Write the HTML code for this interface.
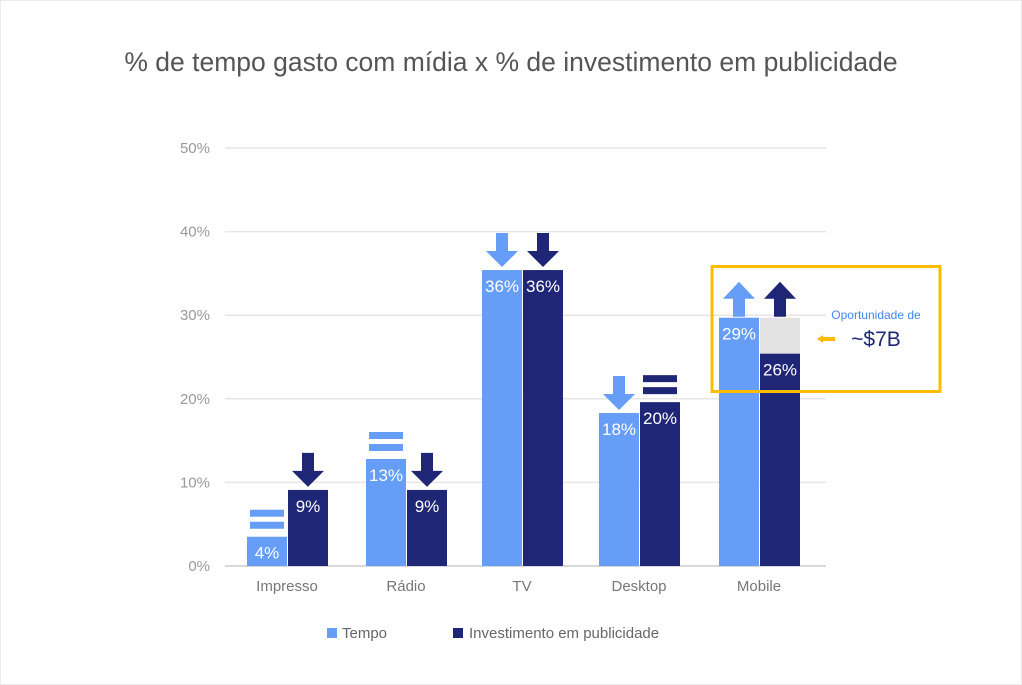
<!DOCTYPE html>
<html><head><meta charset="utf-8"><style>
html,body{margin:0;padding:0;background:#fff;}
body{width:1022px;height:685px;overflow:hidden;font-family:"Liberation Sans",sans-serif;}
</style></head><body>
<svg id="c" width="1022" height="685" xmlns="http://www.w3.org/2000/svg" style="display:block">
<rect x="0.5" y="0.5" width="1021" height="684" fill="#fff" stroke="#ececec"/>
<text x="511" y="71" text-anchor="middle" font-size="26.5" fill="#555">% de tempo gasto com mídia x % de investimento em publicidade</text>
<g id="grid"></g><g id="bars"></g><g id="icons"></g>
</svg>
<script>
const categories=["Impresso","Rádio","TV","Desktop","Mobile"];
const tempoValues=[3.5,12.8,35.4,18.3,29.7];
const investValues=[9.1,9.1,35.4,19.6,25.4];
const tempoLabels=["4%","13%","36%","18%","29%"];
const investLabels=["9%","9%","36%","20%","26%"];
const tempoIcons=["eq","eq","down","down","up"];
const investIcons=["down","down","down","eq","up"];
const yTicks=[0,10,20,30,40,50];
const yTickLabels=["0%","10%","20%","30%","40%","50%"];

const svg=document.getElementById('c'),NS="http://www.w3.org/2000/svg";
const y0=566,y50=148,xL=225,xR=826;
const y=v=>y0-(y0-y50)*v/50;
const centers=[287,406,522,639,759];
const x=i=>centers[i];
const BW=40;
function el(t,a,p){const e=document.createElementNS(NS,t);for(const k in a)e.setAttribute(k,a[k]);(p||svg).appendChild(e);return e;}
const G=document.getElementById('grid'),B=document.getElementById('bars'),I=document.getElementById('icons');
yTicks.forEach((t,i)=>{
 const l=el('line',{x1:xL,x2:xR,y1:y(t),y2:y(t),stroke:t===0?'#ccc':'#e6e6e6','stroke-width':1.5},G);
 
 
 const tx=el('text',{x:210,y:y(t)+5,'text-anchor':'end','font-size':15,fill:'#999'},G);
 tx.textContent=yTickLabels[i];
 
 
});
function icon(kind,cx,top,color){
 const g=el('g',{fill:color},I);
 
 
 if(kind==='eq'){
  el('rect',{x:cx-17,y:top-27,width:34,height:7},g);
  el('rect',{x:cx-17,y:top-15,width:34,height:7},g);
 }else if(kind==='down'){
  const b=top-3;
  el('polygon',{points:`${cx-6},${b-34} ${cx+6},${b-34} ${cx+6},${b-16} ${cx+16},${b-16} ${cx},${b} ${cx-16},${b-16} ${cx-6},${b-16}`},g);
 }else{
  const b=top-1;
  el('polygon',{points:`${cx-6},${b} ${cx+6},${b} ${cx+6},${b-18} ${cx+16},${b-18} ${cx},${b-35} ${cx-16},${b-18} ${cx-6},${b-18}`},g);
 }
}
categories.forEach((c,i)=>{
 const cx=x(i);
 if(investValues[i]<tempoValues[i]&&i===4){
  const g=el('rect',{x:cx+1,y:y(tempoValues[i]),width:BW,height:y(investValues[i])-y(tempoValues[i]),fill:'#e3e3e3'},B);
  
  
 }
 const r1=el('rect',{x:cx-BW,y:y(tempoValues[i]),width:BW,height:y0-y(tempoValues[i]),fill:'#669df6'},B);
 
 
 const r2=el('rect',{x:cx+1,y:y(investValues[i]),width:BW,height:y0-y(investValues[i]),fill:'#1f2675'},B);
 
 
 const t1=el('text',{x:cx-BW/2,y:y(tempoValues[i])+22,'text-anchor':'middle','font-size':17,fill:'#fff'},B);
 t1.textContent=tempoLabels[i];
 
 
 const t2=el('text',{x:cx+1+BW/2,y:y(investValues[i])+22,'text-anchor':'middle','font-size':17,fill:'#fff'},B);
 t2.textContent=investLabels[i];
 
 
 const top=Math.max(tempoValues[i],investValues[i]);
 icon(tempoIcons[i],cx-BW/2,y(tempoIcons[i]==='up'?top:tempoValues[i]),'#669df6');
 icon(investIcons[i],cx+1+BW/2,y(investIcons[i]==='up'?top:investValues[i]),'#1f2675');
 const xl=el('text',{x:cx,y:591,'text-anchor':'middle','font-size':15,fill:'#777'},B);
 xl.textContent=c;
 
 
});
</script>
<svg style="position:absolute;left:0;top:0" width="1022" height="685" xmlns="http://www.w3.org/2000/svg">
<rect x="712" y="266.5" width="228" height="125" fill="none" stroke="#fbbc04" stroke-width="3"/>
<text x="876" y="319" text-anchor="middle" font-size="12" fill="#4285f4">Oportunidade de</text>
<text x="876" y="346" text-anchor="middle" font-size="21" fill="#1f2675">~$7B</text>
<polygon points="817,339 823,335 823,337 835,337 835,341 823,341 823,343" fill="#fbbc04"/>
<rect x="327" y="628" width="10" height="10" fill="#669df6"/>
<text x="342" y="638" font-size="15" fill="#666">Tempo</text>
<rect x="453" y="628" width="10" height="10" fill="#1f2675"/>
<text x="469" y="638" font-size="15" fill="#666">Investimento em publicidade</text>
</svg>
</body></html>
